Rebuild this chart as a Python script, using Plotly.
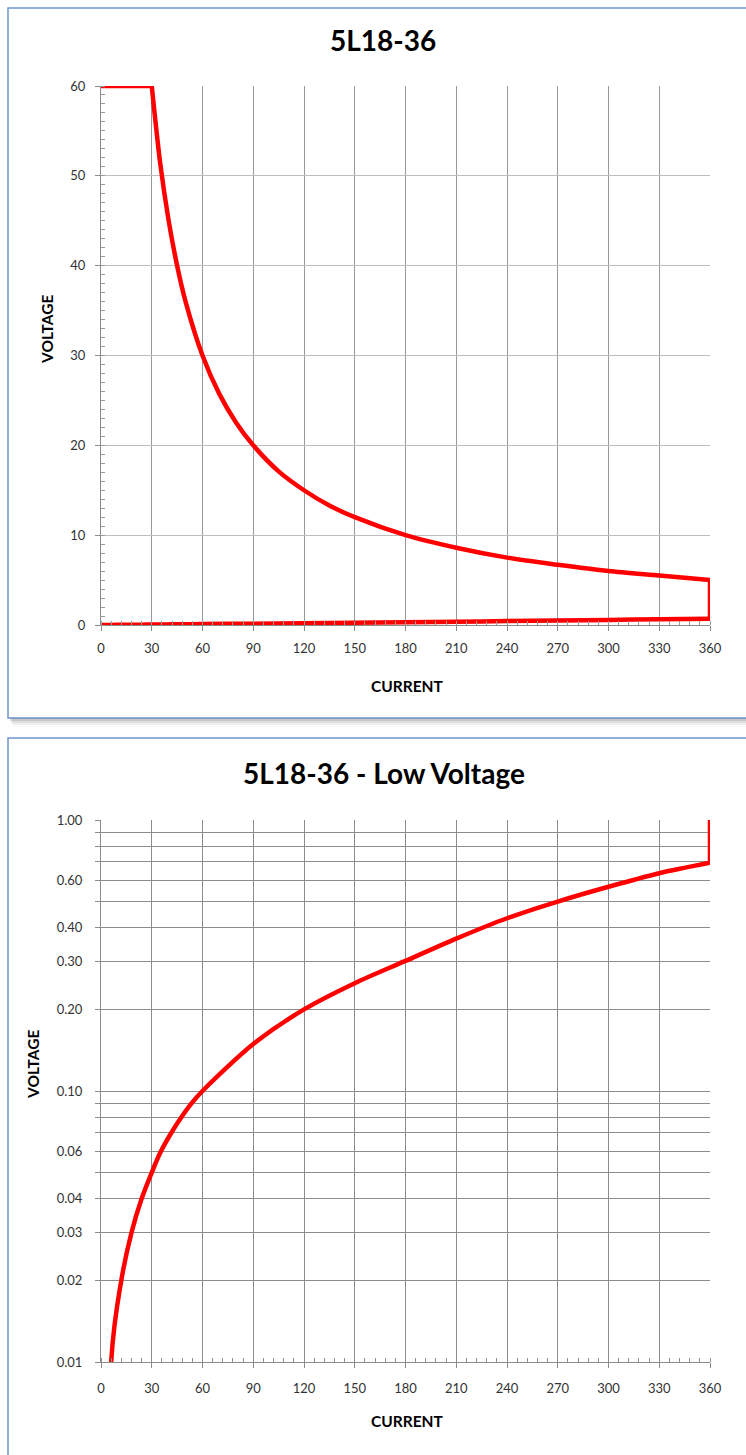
import plotly.graph_objects as go

# ---- data ----
high_current = [0, 30, 35, 40, 45, 50, 60, 70, 80, 90, 105, 120, 135, 150, 180, 210, 240, 270, 300, 330, 360]
high_voltage = [60, 60, 51.4, 45, 40, 36, 30, 25.7, 22.5, 20, 17.1, 15, 13.3, 12, 10, 8.6, 7.5, 6.7, 6.0, 5.5, 5.0]

low_current = [0, 6, 12, 18, 24, 30, 35.5, 41.5, 47.5, 53.5, 60, 90, 120, 150, 180, 210, 240, 270, 300, 330, 360]
low_voltage = [0, 0.01, 0.02, 0.03, 0.04, 0.05, 0.06, 0.07, 0.08, 0.09, 0.10, 0.149, 0.20, 0.25, 0.302, 0.365, 0.434, 0.50, 0.567, 0.636, 0.695]

x_ticks = [0, 30, 60, 90, 120, 150, 180, 210, 240, 270, 300, 330, 360]
top_y_ticks = [0, 10, 20, 30, 40, 50, 60]
low_y_ticks = [0.01, 0.02, 0.03, 0.04, 0.05, 0.06, 0.07, 0.08, 0.09, 0.1,
               0.2, 0.3, 0.4, 0.5, 0.6, 0.7, 0.8, 0.9, 1.0]
low_y_labels = ["0.01", "0.02", "0.03", "0.04", "", "0.06", "", "", "", "0.10",
                "0.20", "0.30", "0.40", "", "0.60", "", "", "", "1.00"]

title_top = "5L18-36"
title_low = "5L18-36 - Low Voltage"
x_title = "CURRENT"
y_title = "VOLTAGE"

# body margin is removed by the post script, so the figure fills the page
PAGE_W, PAGE_H, M = 746, 1455, 0
W, H = PAGE_W - 2 * M, PAGE_H - 2 * M
def px(x): return (x - M) / W
def py(y): return 1 - (y - M) / H

FONT = "Lato"
RED = "#FF0000"
BORDER = "#6F94CE"
LW = 4.5

fig = go.Figure()

def add_path(xa, ya):
    common = dict(mode="lines", xaxis=xa, yaxis=ya, cliponaxis=False,
                  showlegend=False, hoverinfo="skip")
    fig.add_trace(go.Scatter(x=high_current[:2], y=high_voltage[:2],
                             line=dict(color=RED, width=LW), **common))
    fig.add_trace(go.Scatter(x=high_current[1:], y=high_voltage[1:],
                             line=dict(color=RED, width=LW, shape="spline", smoothing=0.8), **common))
    fig.add_trace(go.Scatter(x=[high_current[-1], low_current[-1]], y=[high_voltage[-1], low_voltage[-1]],
                             line=dict(color=RED, width=LW), **common))
    fig.add_trace(go.Scatter(x=low_current, y=low_voltage,
                             line=dict(color=RED, width=LW, shape="spline", smoothing=0.8), **common))

add_path("x", "y")
add_path("x2", "y2")

tickfont = dict(family=FONT, size=13, color="#333333")
axis_common = dict(linecolor="#8C8C8C", linewidth=1, showline=True, zeroline=False, automargin=False,
                   tickfont=tickfont, ticks="outside", ticklen=5, tickcolor="#8C8C8C")

xdomain = [px(101), px(710)]
fig.update_layout(
    width=W, height=H, autosize=False,
    margin=dict(l=0, r=0, t=0, b=0, pad=0, autoexpand=False),
    paper_bgcolor="white", plot_bgcolor="white", showlegend=False,
    xaxis=dict(domain=xdomain, anchor="y", range=[0, 360], tickvals=x_ticks,
               showgrid=True, gridcolor="#9A9A9A", gridwidth=1, ticklabelstandoff=6,
               minor=dict(dtick=6, ticks="inside", ticklen=4, tickcolor="#9A9A9A", showgrid=False),
               **axis_common),
    yaxis=dict(domain=[py(625), py(86)], anchor="x", range=[0, 60], tickvals=top_y_ticks,
               showgrid=True, gridcolor="#BDBDBD", gridwidth=1, ticklabelstandoff=7,
               minor=dict(dtick=1, ticks="inside", ticklen=4, tickcolor="#9A9A9A", showgrid=False),
               **axis_common),
    xaxis2=dict(domain=xdomain, anchor="y2", range=[0, 360], tickvals=x_ticks,
                showgrid=True, gridcolor="#8C8C8C", gridwidth=1, ticklabelstandoff=9,
                minor=dict(dtick=6, ticks="inside", ticklen=4, tickcolor="#8C8C8C", showgrid=False),
                **axis_common),
    yaxis2=dict(domain=[py(1362), py(820)], anchor="x2", type="log", range=[-2, 0],
                tickvals=low_y_ticks, ticktext=low_y_labels, ticklabelstandoff=10,
                showgrid=True, gridcolor="#8C8C8C", gridwidth=1,
                **axis_common),
)

shapes = []
for i, a in enumerate([0.14, 0.10, 0.07, 0.04, 0.02]):
    shapes.append(dict(type="rect", xref="paper", yref="paper",
                       x0=px(9 + i), x1=px(780), y0=py(719 + 2 * i), y1=py(12),
                       line=dict(width=0), fillcolor=f"rgba(0,0,0,{a})", layer="below"))
shapes.append(dict(type="rect", xref="paper", yref="paper",
                   x0=px(8), x1=px(780), y0=py(718), y1=py(8),
                   line=dict(color=BORDER, width=1.5), fillcolor="white", layer="below"))
shapes.append(dict(type="rect", xref="paper", yref="paper",
                   x0=px(8), x1=px(780), y0=py(1480), y1=py(738),
                   line=dict(color=BORDER, width=1.5), fillcolor="white", layer="below"))
fig.update_layout(shapes=shapes)

ann = []
def add_text(text, x, y, size, angle=0):
    ann.append(dict(text=text, x=px(x), y=py(y), xref="paper", yref="paper",
                    xanchor="center", yanchor="middle", showarrow=False, textangle=angle,
                    font=dict(family=FONT, size=size, color="black")))

add_text(f"<b>{title_top}</b>", 383, 40, 28)
add_text(f"<b>{title_low}</b>", 384, 773, 28)
add_text(f"<b>{x_title}</b>", 407, 686, 15.5)
add_text(f"<b>{x_title}</b>", 407, 1421, 15.5)
add_text(f"<b>{y_title}</b>", 47, 330, 15.5, -90)
add_text(f"<b>{y_title}</b>", 33, 1065, 15.5, -90)
fig.update_layout(annotations=ann)

fig.write_html("out.html", config={"displayModeBar": False},
               post_script="document.body.style.margin='0';document.body.style.overflow='hidden';")
